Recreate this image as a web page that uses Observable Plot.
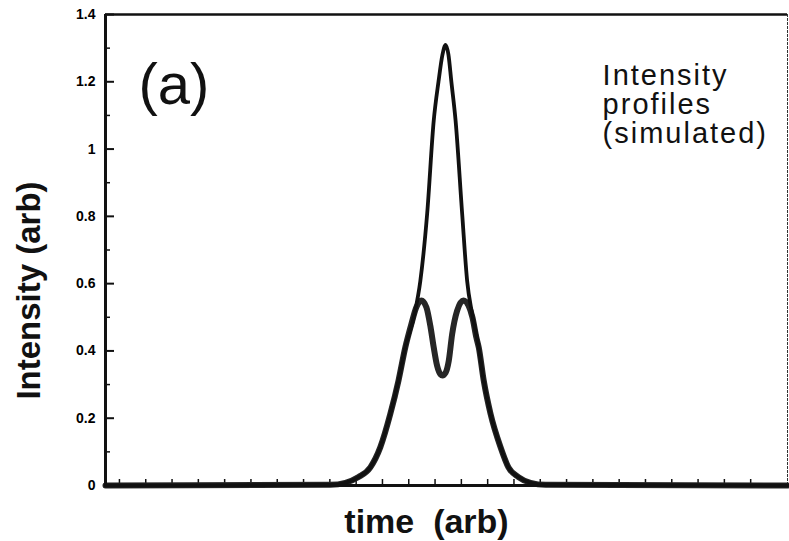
<!DOCTYPE html>
<html><head><meta charset="utf-8">
<script src="https://cdn.jsdelivr.net/npm/d3@7"></script>
<script src="https://cdn.jsdelivr.net/npm/@observablehq/plot@0.6"></script>
<style>body{margin:0;background:#fff}</style>
</head><body><div id="chart"></div>
<script>
// time axis in tick units (arb), intensity in arb
const timeTall = [-0.53, 8.02, 8.59, 9.09, 9.54, 9.92, 10.30, 10.61, 10.87, 11.22, 11.44, 11.70, 11.95, 12.13, 12.28, 12.40, 12.51, 12.62, 12.78, 13.03, 13.22, 13.41, 13.66, 13.85, 14.11, 14.49, 14.79, 15.17, 15.63, 16.20, 25.4];
const intensityTall = [0, 0.002, 0.008, 0.025, 0.054, 0.114, 0.213, 0.312, 0.411, 0.51, 0.608, 0.808, 1.085, 1.2, 1.28, 1.31, 1.28, 1.2, 1.085, 0.808, 0.608, 0.51, 0.411, 0.312, 0.213, 0.114, 0.054, 0.025, 0.008, 0.002, 0];
const timeDouble = [-0.53, 8.02, 8.59, 9.09, 9.54, 9.92, 10.30, 10.61, 10.87, 11.10, 11.29, 11.48, 11.67, 11.83, 11.95, 12.08, 12.21, 12.28, 12.40, 12.52, 12.65, 12.84, 13.08, 13.27, 13.42, 13.57, 13.66, 13.85, 14.11, 14.49, 14.79, 15.17, 15.63, 16.20, 25.4];
const intensityDouble = [0, 0.002, 0.008, 0.025, 0.054, 0.114, 0.213, 0.312, 0.411, 0.48, 0.53, 0.55, 0.53, 0.47, 0.41, 0.355, 0.33, 0.327, 0.335, 0.37, 0.45, 0.52, 0.55, 0.535, 0.5, 0.44, 0.411, 0.312, 0.213, 0.114, 0.054, 0.025, 0.008, 0.002, 0];
const yMajorTicks = [0, 0.2, 0.4, 0.6, 0.8, 1, 1.2, 1.4];
const yTickLabels = ["0", "0.2", "0.4", "0.6", "0.8", "1", "1.2", "1.4"];
const yMinorTicks = [0.1, 0.3, 0.5, 0.7, 0.9, 1.1, 1.3];
const xTicks = [0,1,2,3,4,5,6,7,8,9,10,11,12,13,14,15,16,17,18,19,20,21,22,23,24];
const xDomain = [-0.53, 25.4];
const yDomain = [0, 1.4];
const panelLabel = {text: "(a)", x: 0.72, y: 1.133};
const noteLabel = {text: "Intensity\nprofiles\n(simulated)", x: 18.37, y: 1.017};
const xLabel = "time\u00A0 (arb)";
const yLabel = "Intensity (arb)";

const W = 789, H = 541, mL = 105, mR = 2, mT = 14, mB = 56;
const frameW = W - mL - mR, frameH = H - mT - mB;
// convert tick lengths (px) to data units via the scales' extents
const xPerPx = (xDomain[1] - xDomain[0]) / frameW;
const yPerPx = (yDomain[1] - yDomain[0]) / frameH;

const chart = Plot.plot({
  width: W, height: H,
  marginLeft: mL, marginRight: mR, marginTop: mT, marginBottom: mB,
  style: {fontFamily: "'Liberation Sans', Arial, sans-serif", background: "#fff", color: "#111", overflow: "visible"},
  x: {domain: xDomain, axis: null},
  y: {domain: yDomain, axis: null},
  marks: [
    Plot.ruleX(xTicks, {x: d => d, y1: yDomain[0], y2: yDomain[0] + 6 * yPerPx, strokeWidth: 1.5, stroke: "#111"}),
    Plot.ruleY(yMajorTicks, {y: d => d, x1: xDomain[0], x2: xDomain[0] + 9 * xPerPx, strokeWidth: 2, stroke: "#111"}),
    Plot.ruleY(yMinorTicks, {y: d => d, x1: xDomain[0], x2: xDomain[0] + 5 * xPerPx, strokeWidth: 1.5, stroke: "#111"}),
    Plot.text(yMajorTicks, {x: xDomain[0], y: d => d, text: (d, i) => yTickLabels[i], textAnchor: "end", dx: -10,
      fontSize: 14, fontWeight: "bold", fill: "#000"}),
    Plot.ruleY([yDomain[1]], {strokeWidth: 2.5, stroke: "#111"}),
    Plot.ruleX([xDomain[1]], {strokeWidth: 1, stroke: "#333", strokeDasharray: "3,1"}),
    Plot.lineY(intensityDouble, {x: timeDouble, stroke: "#262626", strokeWidth: 6, curve: "monotone-x"}),
    Plot.lineY(intensityTall, {x: timeTall, stroke: "#111", strokeWidth: 3.8, curve: "monotone-x"}),
    Plot.ruleX([xDomain[0]], {strokeWidth: 3, stroke: "#111"}),
    Plot.ruleY([yDomain[0]], {strokeWidth: 3, stroke: "#111"}),
    Plot.text([panelLabel], {x: "x", y: "y", text: "text", textAnchor: "start", lineAnchor: "bottom", fontSize: 58, fill: "#111"}),
    Plot.text([noteLabel], {x: "x", y: "y", text: "text", textAnchor: "start", lineAnchor: "bottom", fontSize: 29, lineHeight: 1, fill: "#111"}),
    Plot.text([xLabel], {frameAnchor: "bottom", textAnchor: "middle", lineAnchor: "bottom", dx: -20, dy: 47, fontSize: 34, fontWeight: "bold", fill: "#111"}),
    Plot.text([yLabel], {frameAnchor: "left", textAnchor: "middle", rotate: -90, dx: -75.6, dy: 40.5, fontSize: 33, fontWeight: "bold", fill: "#111"})
  ]
});
// widen the note's glyph spacing to match the reference's wider lettering
d3.select(chart).selectAll("text").filter(function () { return /profiles/.test(this.textContent); })
  .style("letter-spacing", "2px");
document.getElementById("chart").appendChild(chart);
</script>
</body></html>
